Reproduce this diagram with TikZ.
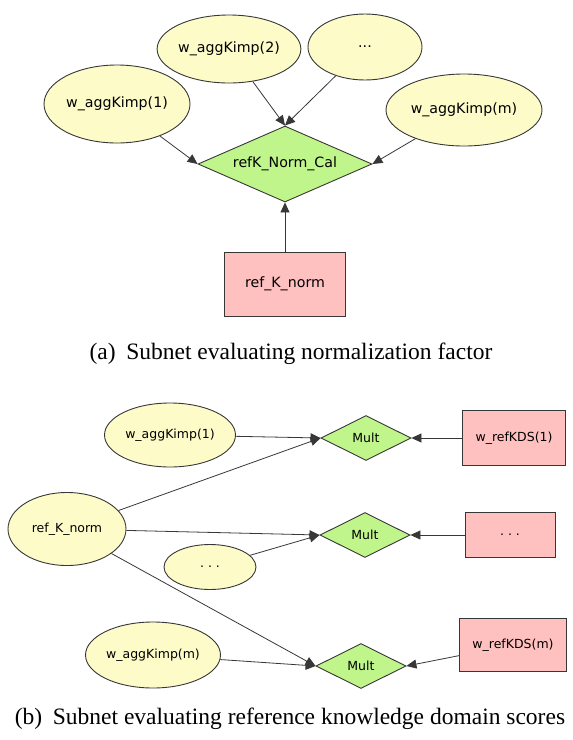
\documentclass[tikz,border=0pt]{standalone}
\usepackage{fontspec}
\setmainfont{Liberation Serif}
\newfontfamily\nodefont{DejaVu Sans}
\usetikzlibrary{shapes.geometric,arrows.meta}

\definecolor{varfill}{RGB}{253,251,200}
\definecolor{opfill}{RGB}{192,245,140}
\definecolor{constfill}{RGB}{255,192,192}
\definecolor{edgegray}{RGB}{55,55,55}

\tikzset{
  base/.style={draw=edgegray, line width=0.9pt, inner sep=0pt, font=\nodefont},
  var/.style={base, ellipse, fill=varfill},
  op/.style={base, diamond, fill=opfill},
  const/.style={base, rectangle, fill=constfill},
  big/.style={font=\nodefont\fontsize{14.2}{16}\selectfont},
  small/.style={font=\nodefont\fontsize{12.5}{14}\selectfont},
  link/.style={draw=edgegray, line width=0.8pt, -{Triangle[length=10pt,width=9pt]}},
  caption/.style={font=\fontsize{23.5}{27}\selectfont, inner sep=0pt}
}

\begin{document}
\begin{tikzpicture}[x=1pt,y=-1pt]
  \useasboundingbox (0,0) rectangle (573,740);

  % (a) normalisation factor subnet
  \node[var,big,minimum width=142pt,minimum height=68pt] (a2) at (229,49) {w\_aggKimp(2)};
  \node[var,big,minimum width=114pt,minimum height=66pt] (adots) at (365,47) {...};
  \node[var,big,minimum width=146pt,minimum height=78pt] (a1) at (117,104) {w\_aggKimp(1)};
  \node[var,big,minimum width=156pt,minimum height=72pt] (am) at (464,110) {w\_aggKimp(m)};
  \node[op,big,aspect=2.29,minimum width=174pt,minimum height=76pt] (cal) at (285,164) {refK\_Norm\_Cal};
  \node[const,big,minimum width=121pt,minimum height=64pt] (norm) at (285,284) {ref\_K\_norm};

  \draw[link] (a2) -- (cal.north);
  \draw[link] (adots) -- (cal.north);
  \draw[link] (a1) -- (cal.west);
  \draw[link] (am) -- (cal.east);
  \draw[link] (norm) -- (cal.south);

  \node[caption] (capa) at (291,354) {(a)\hspace{0.45em}Subnet evaluating normalization factor};

  % (b) reference knowledge domain scores subnet
  \node[var,small,minimum width=131pt,minimum height=64pt] (b1) at (170,435) {w\_aggKimp(1)};
  \node[var,small,minimum width=118pt,minimum height=73pt] (rk) at (67,529) {ref\_K\_norm};
  \node[var,small,minimum width=92pt,minimum height=45pt] (bdots) at (210,567) {.\ .\ .};
  \node[var,small,minimum width=135pt,minimum height=66pt] (bm) at (153,655) {w\_aggKimp(m)};

  \node[op,small,aspect=2,minimum width=90pt,minimum height=45pt] (m1) at (366,438) {Mult};
  \node[op,small,aspect=2,minimum width=90pt,minimum height=45pt] (m2) at (365,535) {Mult};
  \node[op,small,aspect=2,minimum width=90pt,minimum height=45pt] (m3) at (361,666) {Mult};

  \node[const,small,minimum width=103pt,minimum height=55pt] (k1) at (514,438) {w\_refKDS(1)};
  \node[const,small,minimum width=90pt,minimum height=45pt] (kdots) at (510,535) {.\ .\ .};
  \node[const,small,minimum width=107pt,minimum height=53pt] (km) at (513,645) {w\_refKDS(m)};

  \draw[link] (b1) -- (m1.west);
  \draw[link] (rk) -- (m1.west);
  \draw[link] (rk) -- (m2.west);
  \draw[link] (bdots) -- (m2.west);
  \draw[link] (rk) -- (m3.west);
  \draw[link] (bm) -- (m3.west);
  \draw[link] (k1) -- (m1.east);
  \draw[link] (kdots) -- (m2.east);
  \draw[link] (km) -- (m3.east);

  \node[caption] (capb) at (290,719) {(b)\hspace{0.45em}Subnet evaluating reference knowledge domain scores};
\end{tikzpicture}
\end{document}
